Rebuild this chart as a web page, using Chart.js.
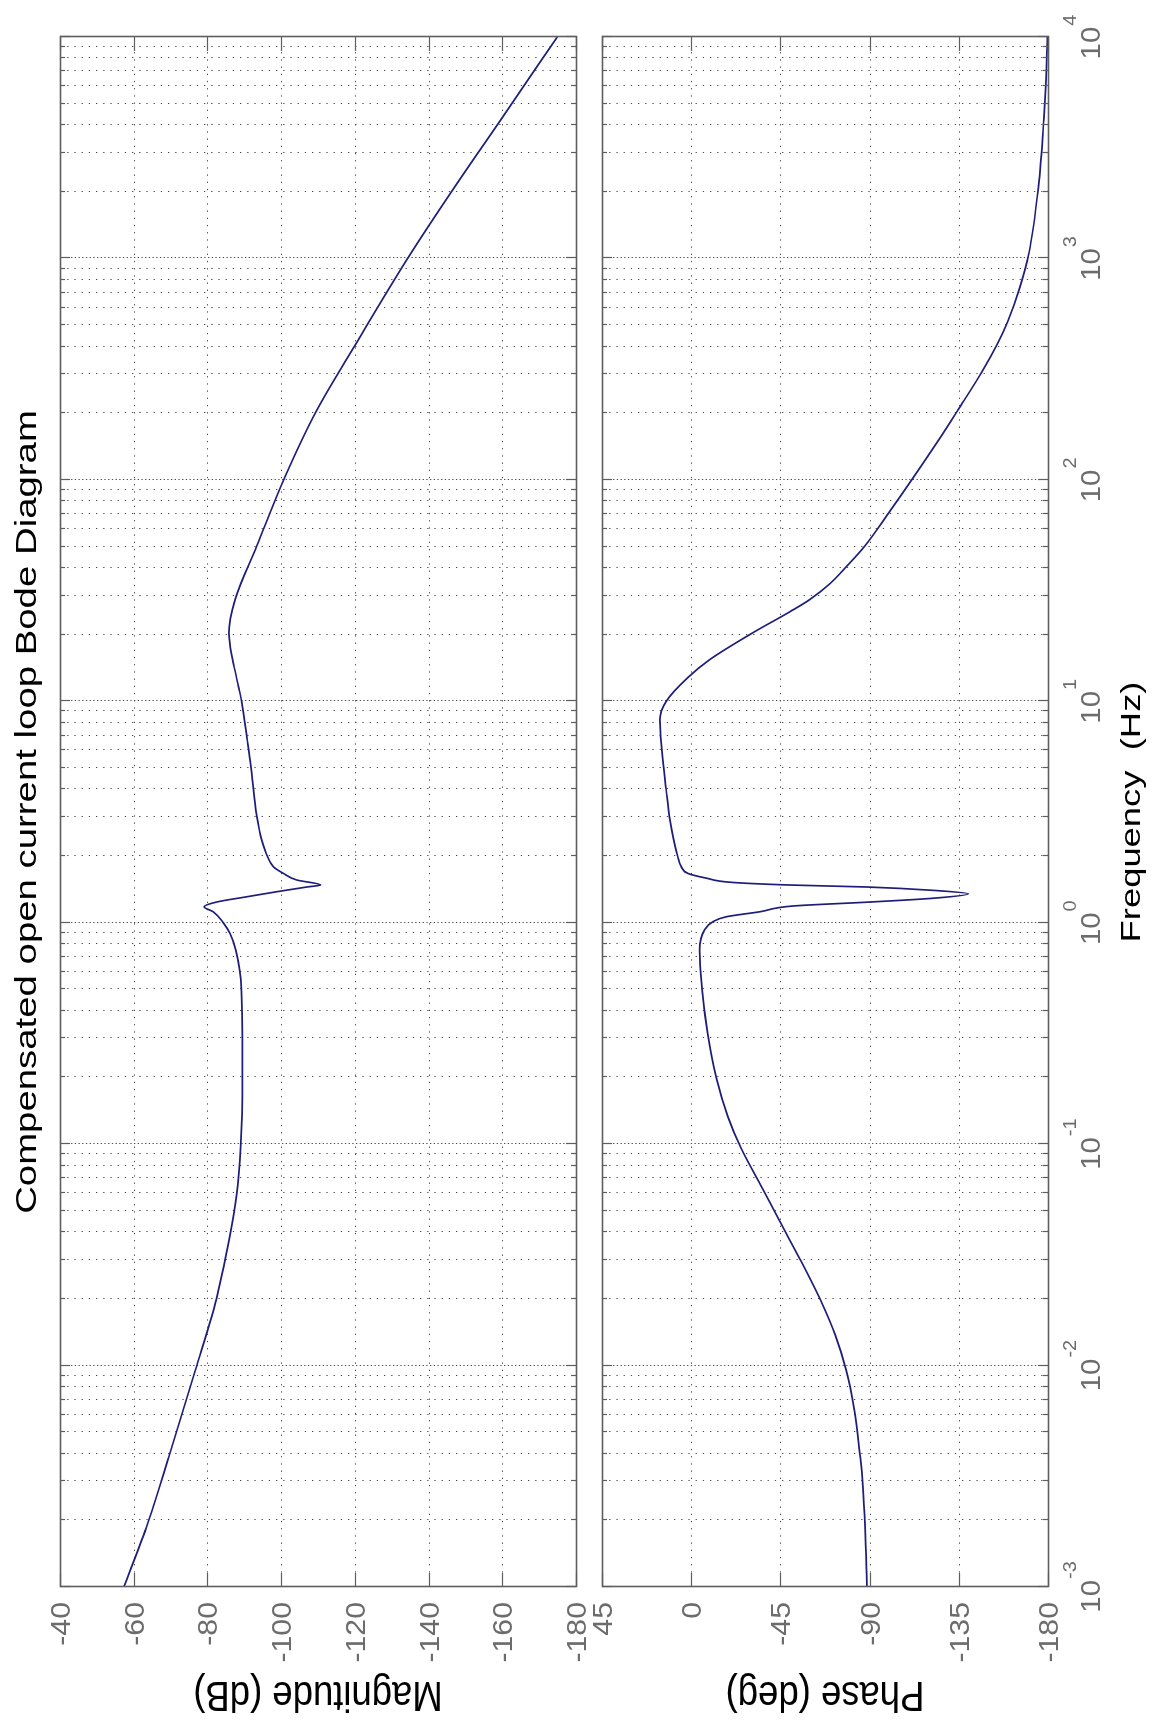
<!DOCTYPE html>
<html>
<head>
<meta charset="utf-8">
<script src="https://cdn.jsdelivr.net/npm/chart.js@4.4.1/dist/chart.umd.min.js"></script>
<style>
html,body{margin:0;padding:0;background:#fff;}
body{width:1163px;height:1720px;overflow:hidden;position:relative;}
#rot{position:absolute;left:0;top:0;width:1720px;height:1163px;transform-origin:0 0;transform:translate(0px,1720px) rotate(-90deg);background:#fff;}
#magWrap{position:absolute;left:0;top:0;width:1720px;height:590px;}
#phWrap{position:absolute;left:0;top:590px;width:1720px;height:573px;}
canvas{display:block;}
</style>
</head>
<body>
<div id="rot">
  <div id="magWrap"><canvas id="mag" width="1720" height="590"></canvas></div>
  <div id="phWrap"><canvas id="ph" width="1720" height="573"></canvas></div>
</div>
<script>
// ===== DATA =====
const magFreq = [0.001, 0.00185, 0.00386, 0.0095, 0.019, 0.038, 0.059, 0.097, 0.2, 0.5, 0.75, 0.895, 1.0, 1.12, 1.18, 1.24, 1.31, 1.38, 1.45, 1.48, 1.56, 1.67, 1.79, 1.99, 2.37, 3.02, 5.08, 6.71, 10, 11.7, 14.4, 17.1, 20.4, 28.8, 50.3, 102, 207, 412, 1048, 2081, 4256, 10000];
const magDb = [-57.3, -63.4, -69.5, -76.7, -82.1, -86.0, -87.9, -89.0, -89.5, -89.2, -87.7, -86.1, -84.3, -81.6, -79.1, -82.5, -90.7, -98.8, -107, -110.7, -104.2, -100.6, -97.9, -96.3, -94.7, -93.4, -91.8, -90.8, -89.3, -88.4, -87.2, -86.3, -85.8, -87.5, -93.4, -100.9, -109.7, -120.3, -135.1, -146.9, -159.7, -174.9];

const phaseFreq = [0.001, 0.00185, 0.00285, 0.00385, 0.00647, 0.00946, 0.0138, 0.0191, 0.0294, 0.0453, 0.063, 0.0966, 0.133, 0.197, 0.317, 0.51, 0.75, 0.927, 1.01, 1.064, 1.12, 1.19, 1.24, 1.29, 1.35, 1.40, 1.45, 1.48, 1.52, 1.59, 1.67, 1.79, 1.99, 3.02, 3.98, 6.04, 8.26, 10, 12.8, 15.4, 20.4, 25.6, 28.8, 34.0, 40.7, 50.3, 72.6, 102, 157, 207, 308, 412, 519, 735, 1048, 2081, 4256, 6137, 10000];
const phaseDeg = [-88.6, -87.7, -86.6, -85.3, -82.1, -78.3, -72.6, -66.0, -55.6, -44.4, -36.0, -25.0, -18.5, -12.8, -8.3, -5.4, -4.2, -6.7, -10.9, -17.7, -34.5, -51.4, -90.1, -122.1, -139.8, -122.1, -88.5, -49.7, -21, -7.6, 1.7, 5, 6.8, 11, 12.6, 14.8, 15.8, 12.6, 1.7, -9.2, -31.1, -50.5, -59.8, -70.0, -78.4, -87.6, -100.4, -111.9, -126.0, -134.6, -146.7, -154.5, -159.7, -165.7, -170.3, -175.1, -177.9, -178.9, -179.7];

const magTicks = [-40, -60, -80, -100, -120, -140, -160, -180];
const phaseTicks = [45, 0, -45, -90, -135, -180];
const decadeExponents = [-3, -2, -1, 0, 1, 2, 3, 4];
const minorMultipliers = [2, 3, 4, 5, 6, 7, 8, 9];

const titleText = 'Compensated open current loop Bode Diagram';
const magLabel = 'Magnitude (dB)';
const phaseLabel = 'Phase (deg)';
const freqLabel = 'Frequency  (Hz)';

// ===== STYLE =====
const FONT = '"Liberation Sans", Arial, Helvetica, sans-serif';
const LINE_COLOR = '#1e1e7a';
const GRID_COLOR = '#4a4a4a';
const FRAME_COLOR = '#5e5e5e';
const TICKLABEL_COLOR = '#6c6c6c';

function line(ctx, x1, y1, x2, y2) {
  ctx.beginPath(); ctx.moveTo(x1, y1); ctx.lineTo(x2, y2); ctx.stroke();
}
function text(ctx, str, x, y, opt) {
  ctx.save();
  ctx.translate(x, y);
  if (opt.rot) ctx.rotate(opt.rot);
  ctx.scale(opt.sx || 1, opt.sy || 1);
  ctx.font = opt.font;
  ctx.fillStyle = opt.color || '#000';
  ctx.textAlign = opt.align || 'left';
  ctx.textBaseline = opt.baseline || 'alphabetic';
  ctx.fillText(str, 0, 0);
  ctx.restore();
}

const bodePlugin = {
  id: 'bode',
  beforeDatasetsDraw(chart, args, o) {
    const {ctx, chartArea: a, scales: {x, y}} = chart;
    ctx.save();
    ctx.lineWidth = 1;
    ctx.strokeStyle = GRID_COLOR;
    const nDec = decadeExponents.length;
    decadeExponents.forEach((e, i) => {
      const dec = Math.pow(10, e);
      if (i > 0 && i < nDec - 1) {
        const px = Math.round(x.getPixelForValue(dec)) + 0.5;
        ctx.setLineDash([1.3, 2.4]);
        line(ctx, px, a.top, px, a.bottom);
      }
      if (i < nDec - 1) {
        minorMultipliers.forEach(m => {
          const px = Math.round(x.getPixelForValue(m * dec)) + 0.5;
          ctx.setLineDash([1.3, 5.9]);
          line(ctx, px, a.top, px, a.bottom);
        });
      }
    });
    o.yTicks.forEach(v => {
      if (v === y.min || v === y.max) return;
      const py = Math.round(y.getPixelForValue(v)) + 0.5;
      ctx.setLineDash([1.3, 5.9]);
      line(ctx, a.left, py, a.right, py);
    });
    ctx.restore();
  },
  afterDatasetsDraw(chart, args, o) {
    const {ctx, chartArea: a, scales: {x, y}} = chart;
    ctx.save();
    ctx.setLineDash([]);
    ctx.strokeStyle = FRAME_COLOR;
    ctx.lineWidth = 1.2;
    o.yTicks.forEach(v => {
      const py = Math.round(y.getPixelForValue(v)) + 0.5;
      line(ctx, a.left, py, a.left + 14, py);
      line(ctx, a.right, py, a.right - 14, py);
    });
    const nDec = decadeExponents.length;
    decadeExponents.forEach((e, i) => {
      const dec = Math.pow(10, e);
      const px = Math.round(x.getPixelForValue(dec)) + 0.5;
      line(ctx, px, a.top, px, a.top + 10);
      line(ctx, px, a.bottom, px, a.bottom - 10);
      if (i < nDec - 1) {
        minorMultipliers.forEach(m => {
          const qx = Math.round(x.getPixelForValue(m * dec)) + 0.5;
          line(ctx, qx, a.top, qx, a.top + 5);
          line(ctx, qx, a.bottom, qx, a.bottom - 5);
        });
      }
    });
    ctx.lineWidth = 1.6;
    ctx.strokeRect(Math.round(a.left) + 0.5, Math.round(a.top) + 0.5, Math.round(a.right - a.left), Math.round(a.bottom - a.top));
    ctx.restore();

    o.yTicks.forEach((v, i) => {
      const py = y.getPixelForValue(v);
      text(ctx, o.yTickLabels[i], a.left - 15, py + 10, {font: '27.5px ' + FONT, color: TICKLABEL_COLOR, align: 'right', sx: 1.1});
    });
    text(ctx, o.yLabel, 38, (a.top + a.bottom) / 2, {font: '36.5px ' + FONT, color: '#000', align: 'center', rot: -Math.PI / 2, sy: 1.15});

    if (o.title) {
      text(ctx, o.title, (a.left + a.right) / 2, a.top - 24, {font: '29.5px ' + FONT, color: '#000', align: 'center', sx: 1.3});
    }
    if (o.freqLabels) {
      decadeExponents.forEach(e => {
        const px = x.getPixelForValue(Math.pow(10, e));
        ctx.save();
        ctx.font = '28px ' + FONT;
        const w10 = ctx.measureText('10').width * 1.05;
        ctx.font = '19px ' + FONT;
        const we = ctx.measureText(String(e)).width * 1.05;
        ctx.restore();
        const start = px - (w10 + 1 + we) / 2;
        text(ctx, '10', start, a.bottom + 52, {font: '28px ' + FONT, color: TICKLABEL_COLOR, sx: 1.05});
        text(ctx, String(e), start + w10 + 1, a.bottom + 28, {font: '19px ' + FONT, color: TICKLABEL_COLOR, sx: 1.05});
      });
      text(ctx, o.xLabel, (a.left + a.right) / 2, a.bottom + 92, {font: '28px ' + FONT, color: '#000', align: 'center', sx: 1.3});
    }
  }
};

function makeChart(id, xs, ys, yTicks, padding, extra) {
  const yMin = Math.min.apply(null, yTicks);
  const yMax = Math.max.apply(null, yTicks);
  return new Chart(document.getElementById(id), {
    type: 'line',
    data: {
      datasets: [{
        data: xs.map((f, i) => ({x: f, y: ys[i]})),
        borderColor: LINE_COLOR,
        borderWidth: 1.7,
        pointRadius: 0,
        fill: false,
        cubicInterpolationMode: 'monotone'
      }]
    },
    options: {
      responsive: false,
      animation: false,
      events: [],
      layout: {padding: padding, autoPadding: false},
      plugins: {
        legend: {display: false},
        tooltip: {enabled: false},
        title: {display: false},
        bode: Object.assign({
          yTicks: yTicks,
          yTickLabels: yTicks.map(v => String(v))
        }, extra)
      },
      scales: {
        x: {
          type: 'logarithmic', min: 1e-3, max: 1e4,
          afterFit: s => { s.height = 0; },
          ticks: {display: false},
          grid: {display: false},
          border: {display: false}
        },
        y: {
          type: 'linear', min: yMin, max: yMax,
          afterFit: s => { s.width = 0; },
          ticks: {display: false},
          grid: {display: false},
          border: {display: false}
        }
      }
    },
    plugins: [bodePlugin]
  });
}

makeChart('mag', magFreq, magDb, magTicks,
  {left: 133, right: 37, top: 60, bottom: 14},
  {yLabel: magLabel, title: titleText, freqLabels: false});

makeChart('ph', phaseFreq, phaseDeg, phaseTicks,
  {left: 133, right: 37, top: 12, bottom: 115},
  {yLabel: phaseLabel, title: null, freqLabels: true, xLabel: freqLabel});
</script>
</body>
</html>
